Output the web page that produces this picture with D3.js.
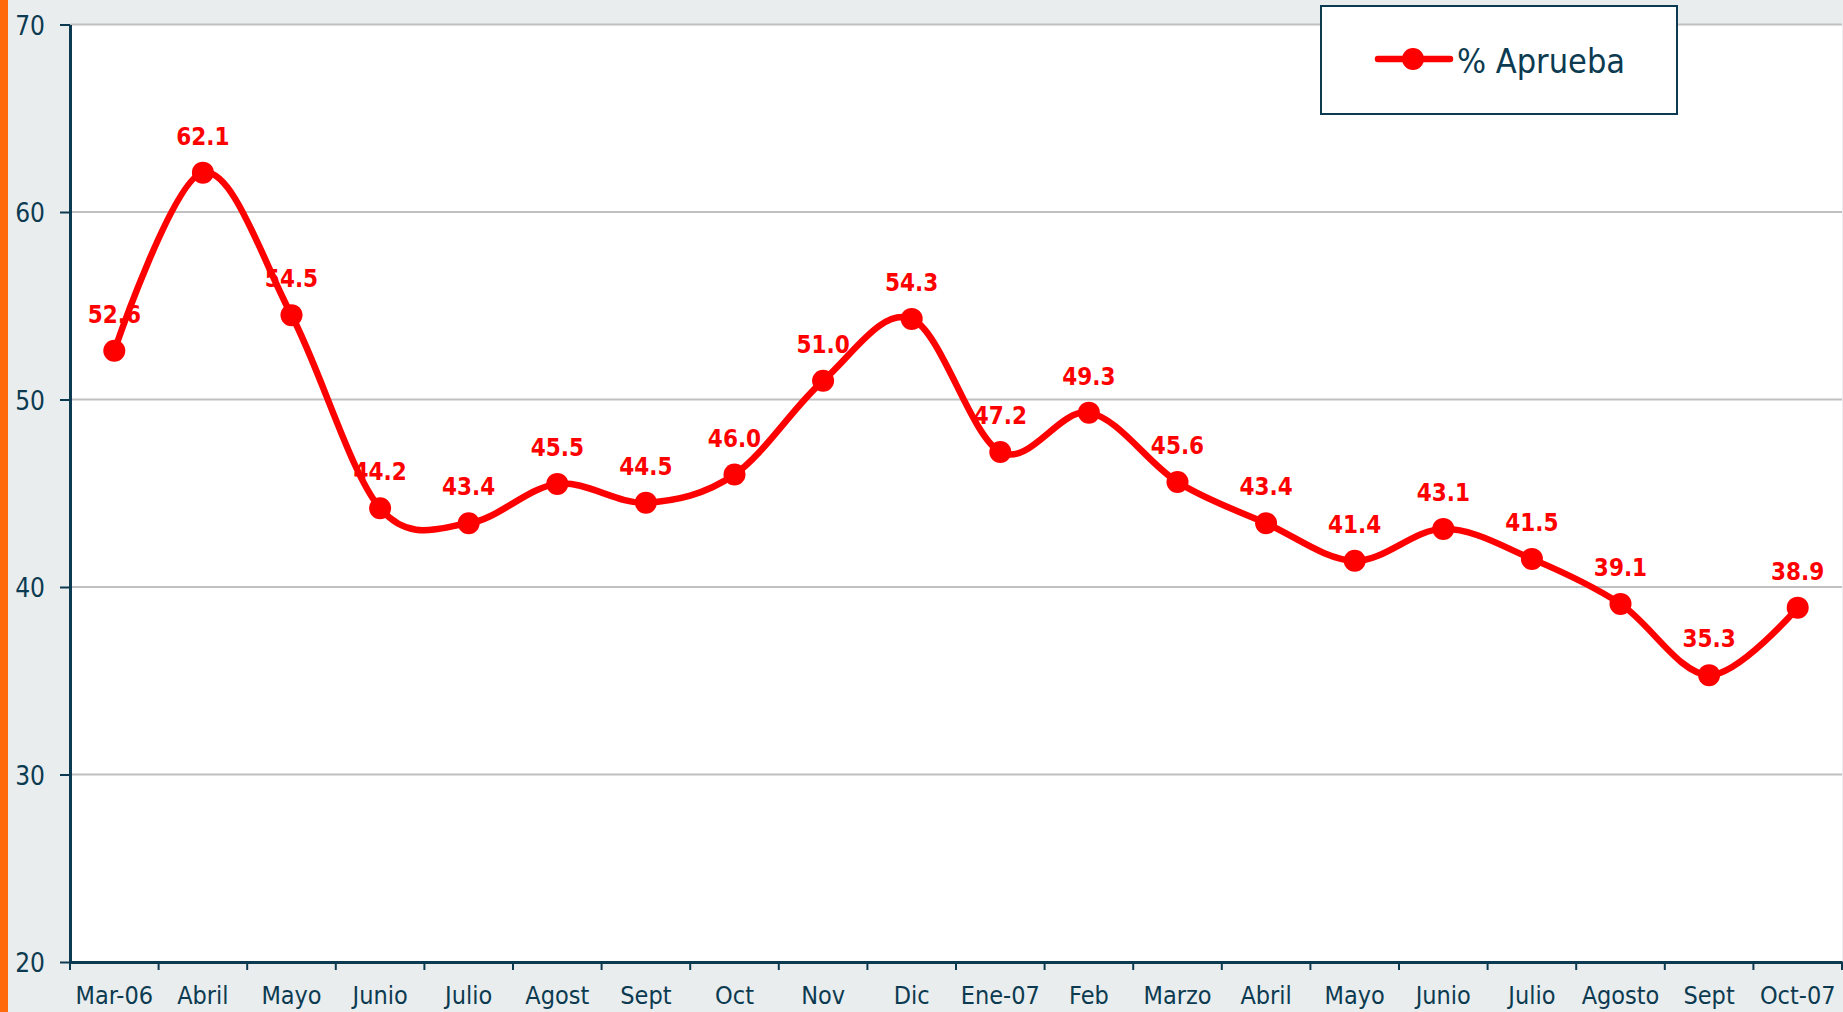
<!DOCTYPE html>
<html lang="es">
  <head>
    <meta charset="utf-8">
    <title>% Aprueba</title>
    <script src="https://d3js.org/d3.v7.min.js"></script>
    <style>
      html, body { margin: 0; padding: 0; background: #e9edee; }
      #chart text { font-family: "DejaVu Sans Condensed", "DejaVu Sans", sans-serif; }
    </style>
  </head>
  <body>
    <div id="chart"></div>
    <script>
      "use strict"
      // datos
      var meses = ['Mar-06', 'Abril', 'Mayo', 'Junio', 'Julio', 'Agost', 'Sept', 'Oct', 'Nov', 'Dic',
                   'Ene-07', 'Feb', 'Marzo', 'Abril', 'Mayo', 'Junio', 'Julio', 'Agosto', 'Sept', 'Oct-07']
      var aprueba = [52.6, 62.1, 54.5, 44.2, 43.4, 45.5, 44.5, 46.0, 51.0, 54.3,
                     47.2, 49.3, 45.6, 43.4, 41.4, 43.1, 41.5, 39.1, 35.3, 38.9]
      var ticksY = [20, 30, 40, 50, 60, 70]
      var serie = '% Aprueba'

      var ancho = 1843, alto = 1012
      var margin = {top: 24.5, right: 1, bottom: 50, left: 70}
      var w = ancho - margin.left - margin.right,
          h = alto - margin.top - margin.bottom
      var azul = '#0c3b51', rojo = '#ff0000'

      var svg = d3.select('#chart').append('svg')
          .attr('width', ancho)
          .attr('height', alto)

      svg.append('rect').attr('width', ancho).attr('height', alto).attr('fill', '#e9edee')
      svg.append('rect').attr('width', 8).attr('height', alto).attr('fill', '#ff6a0d')

      var g = svg.append('g')
          .attr('transform', 'translate(' + margin.left + ',' + margin.top + ')')

      // indices para que los meses repetidos no choquen
      var idx = meses.map((d, i) => i)
      var x = d3.scaleBand().domain(idx).range([0, w]).padding(0)
      var y = d3.scaleLinear().domain([20, 70]).range([h, 0])

      g.append('rect').attr('width', w).attr('height', h).attr('fill', '#fff')

      // lineas de grilla
      g.selectAll('.grid').data(ticksY.slice(1)).enter().append('line')
          .attr('x1', 0).attr('x2', w)
          .attr('y1', d => y(d)).attr('y2', d => y(d))
          .attr('stroke', '#c0c0c0').attr('stroke-width', 2)

      // eje y
      var ejeY = g.append('g')
          .call(d3.axisLeft(y).tickValues(ticksY).tickSize(10).tickPadding(15).tickSizeOuter(0))
      ejeY.select('.domain').attr('stroke', azul).attr('stroke-width', 3)
      ejeY.selectAll('.tick line').attr('stroke', azul).attr('stroke-width', 2)
      ejeY.selectAll('.tick text').attr('fill', azul).style('font-size', '26px').attr('dy', '0.38em')

      // eje x
      var ejeX = g.append('g')
          .attr('transform', 'translate(0,' + h + ')')
          .call(d3.axisBottom(x).tickFormat(i => meses[i]).tickSize(0).tickPadding(24).tickSizeOuter(0))
      ejeX.select('.domain').attr('stroke', azul).attr('stroke-width', 3)
      ejeX.selectAll('.tick text').attr('fill', azul).style('font-size', '25px')
      ejeX.selectAll('.borde').data(idx.concat([idx.length])).enter().append('line')
          .attr('x1', i => i < idx.length ? x(i) : w)
          .attr('x2', i => i < idx.length ? x(i) : w)
          .attr('y1', 0).attr('y2', 8)
          .attr('stroke', azul).attr('stroke-width', 2)

      var cx = i => x(i) + x.bandwidth() / 2

      // etiquetas (debajo de la linea)
      g.selectAll('.etq').data(aprueba).enter().append('text')
          .attr('x', (d, i) => cx(i))
          .attr('y', d => y(d) - 28)
          .attr('text-anchor', 'middle')
          .attr('fill', rojo)
          .style('font-size', '24px').style('font-weight', 'bold')
          .text(d => d.toFixed(1))

      var linea = d3.line()
          .x((d, i) => cx(i))
          .y(d => y(d))
          .curve(d3.curveCatmullRom.alpha(0))

      g.append('path').datum(aprueba)
          .attr('d', linea)
          .attr('fill', 'none')
          .attr('stroke', rojo)
          .attr('stroke-width', 6.5)
          .attr('stroke-linejoin', 'round')

      g.selectAll('.pt').data(aprueba).enter().append('circle')
          .attr('cx', (d, i) => cx(i))
          .attr('cy', d => y(d))
          .attr('r', 11)
          .attr('fill', rojo)

      // leyenda
      var ley = svg.append('g').attr('transform', 'translate(1321,6)')
      ley.append('rect').attr('width', 356).attr('height', 108)
          .attr('fill', '#fff').attr('stroke', azul).attr('stroke-width', 2)
      ley.append('line').attr('x1', 57).attr('x2', 129).attr('y1', 53).attr('y2', 53)
          .attr('stroke', rojo).attr('stroke-width', 6.5).attr('stroke-linecap', 'round')
      ley.append('circle').attr('cx', 92).attr('cy', 53).attr('r', 11).attr('fill', rojo)
      ley.append('text').attr('x', 136).attr('y', 67)
          .attr('fill', azul).style('font-size', '34px')
          .text(serie)
    </script>
  </body>
</html>
